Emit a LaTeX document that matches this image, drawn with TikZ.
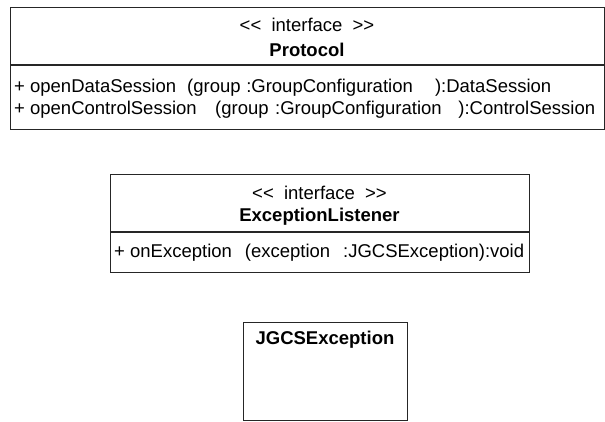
\documentclass[tikz,border=0pt]{standalone}
\usepackage{fontspec}
\setmainfont{Liberation Sans}
\newcommand{\stereo}{<\kern0pt<\hspace{0.55em}interface\hspace{0.55em}>\kern0pt>}
\begin{document}
\begin{tikzpicture}[x=1pt,y=-1pt,
  umlbox/.style={draw=black!85,line width=1.3pt,fill=white,inner sep=0pt,anchor=north west},
  umltxt/.style={font=\fontsize{18.5}{21}\selectfont,inner sep=0pt},
  clsname/.style={umltxt,font=\fontsize{18.5}{21}\selectfont\bfseries},
  meth/.style={umltxt,anchor=west},
  divider/.style={draw=black!85,line width=1.3pt}]
\useasboundingbox (0,0) rectangle (605,421);

% Protocol
\node[umlbox,minimum width=594pt,minimum height=122pt] (prot) at (10,7) {};
\node[umltxt] (protst) at (307,25) {\stereo};
\node[clsname] (protnm) at (307,50) {Protocol};
\coordinate (protdl) at (10,65);
\coordinate (protdr) at (604,65);
\draw[divider] (protdl) -- (protdr);
\node[meth] (protm1) at (14,88) {+ openDataSession\hspace{0.6em}(group\hspace{0.3em}:GroupConfiguration\hspace{1.2em}):DataSession};
\node[meth] (protm2) at (14,110) {+ openControlSession\hspace{1.0em}(group\hspace{0.35em}:GroupConfiguration\hspace{0.9em}):ControlSession};

% ExceptionListener
\node[umlbox,minimum width=419pt,minimum height=98pt] (exl) at (110,174) {};
\node[umltxt] (exlst) at (319.5,193) {\stereo};
\node[clsname] (exlnm) at (319.5,217) {ExceptionListener};
\coordinate (exldl) at (110,232);
\coordinate (exldr) at (529,232);
\draw[divider] (exldl) -- (exldr);
\node[meth] (exlm1) at (114,253) {+ onException\hspace{0.7em}(exception\hspace{0.7em}:JGCSException):void};

% JGCSException
\node[umlbox,minimum width=164pt,minimum height=98pt] (jex) at (243,322) {};
\node[clsname] (jexnm) at (325,340) {JGCSException};
\end{tikzpicture}
\end{document}
